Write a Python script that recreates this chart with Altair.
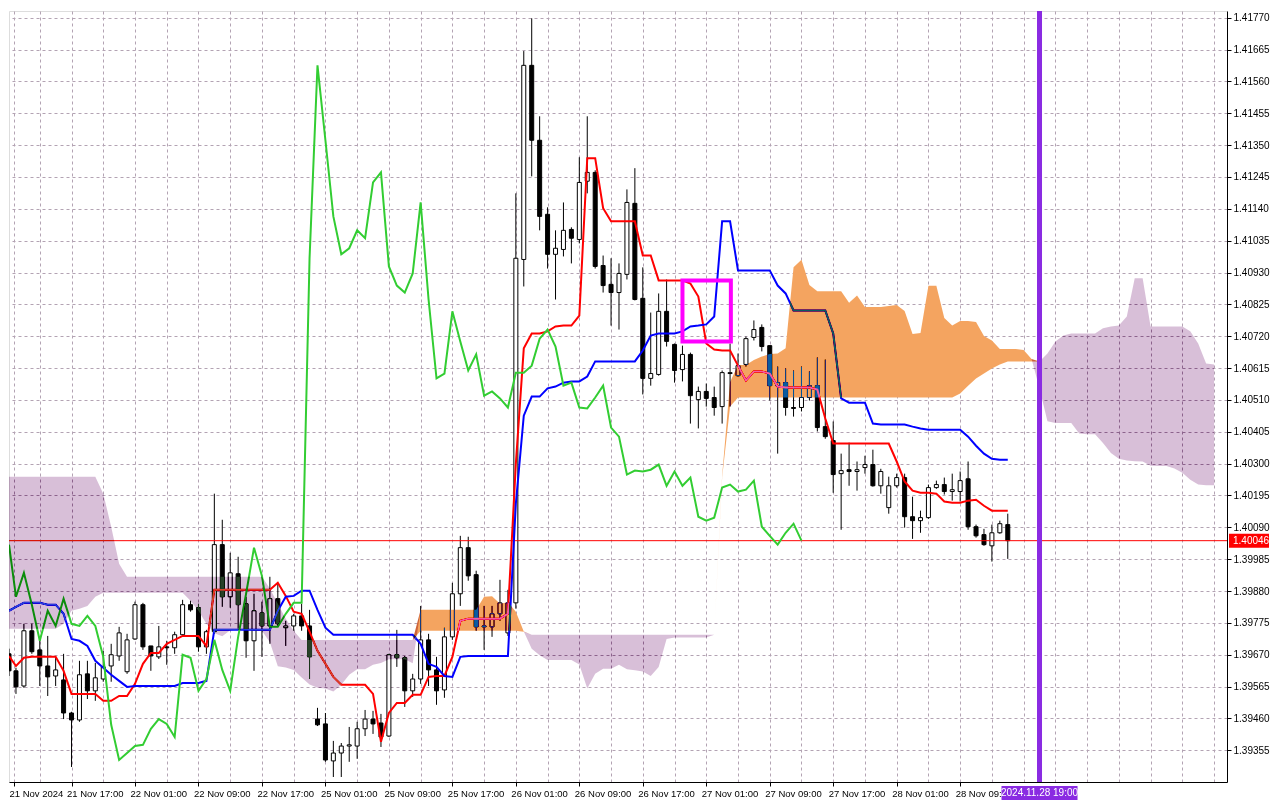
import json
import pandas as pd
import altair as alt

# H1 candles, 21 Nov 2024 09:00 .. 28 Nov 2024 15:00 (bar index 0..126)
opens = [
    1.39673, 1.39617, 1.39567, 1.39749, 1.39686, 1.39633, 1.39600, 1.39587, 1.39478, 1.39455,
    1.39607, 1.39551, 1.39590, 1.39633, 1.39666, 1.39614, 1.39722, 1.39835, 1.39699, 1.39663,
    1.39696, 1.39693, 1.39736, 1.39835, 1.39825, 1.39696, 1.39746, 1.40033, 1.39861, 1.39937,
    1.39838, 1.39716, 1.39808, 1.39765, 1.39855, 1.39759, 1.39765, 1.39798, 1.39765, 1.39458,
    1.39442, 1.39320, 1.39346, 1.39369, 1.39369, 1.39426, 1.39458, 1.39445, 1.39402, 1.39670,
    1.39660, 1.39551, 1.39590, 1.39719, 1.39620, 1.39554, 1.39729, 1.39871, 1.40023, 1.39934,
    1.39765, 1.39762, 1.39805, 1.39742, 1.39841, 1.40973, 1.41613, 1.41366, 1.41122, 1.40990,
    1.41006, 1.41072, 1.41039, 1.41231, 1.41260, 1.40953, 1.40891, 1.40864, 1.40924, 1.41158,
    1.40845, 1.40581, 1.40594, 1.40802, 1.40693, 1.40610, 1.40660, 1.40511, 1.40538, 1.40518,
    1.40488, 1.40597, 1.40590, 1.40627, 1.40716, 1.40749, 1.40689, 1.40557, 1.40567, 1.40485,
    1.40485, 1.40518, 1.40557, 1.40422, 1.40376, 1.40267, 1.40280, 1.40274, 1.40287, 1.40297,
    1.40227, 1.40155, 1.40227, 1.40254, 1.40125, 1.40112, 1.40122, 1.40221, 1.40231, 1.40208,
    1.40208, 1.40250, 1.40092, 1.40066, 1.40029, 1.40072, 1.40099,
]
highs = [
    1.39690, 1.39627, 1.39772, 1.39772, 1.39729, 1.39732, 1.39663, 1.39673, 1.39482, 1.39650,
    1.39650, 1.39643, 1.39683, 1.39706, 1.39762, 1.39739, 1.39845, 1.39841, 1.39699, 1.39765,
    1.39716, 1.39746, 1.39851, 1.39848, 1.39838, 1.39752, 1.40201, 1.40115, 1.40006, 1.39993,
    1.39861, 1.39871, 1.39845, 1.39927, 1.39904, 1.39782, 1.39805, 1.39838, 1.39818, 1.39495,
    1.39478, 1.39386, 1.39379, 1.39432, 1.39449, 1.39488, 1.39485, 1.39475, 1.39673, 1.39752,
    1.39666, 1.39607, 1.39831, 1.39739, 1.39663, 1.39759, 1.39907, 1.40062, 1.40059, 1.39947,
    1.39831, 1.39831, 1.39917, 1.39884, 1.41191, 1.41660, 1.41768, 1.41445, 1.41145, 1.41069,
    1.41161, 1.41079, 1.41310, 1.41445, 1.41267, 1.40986, 1.40977, 1.40960, 1.41204, 1.41274,
    1.40947, 1.40798, 1.40861, 1.40907, 1.40696, 1.40689, 1.40666, 1.40554, 1.40564, 1.40554,
    1.40607, 1.40696, 1.40663, 1.40719, 1.40772, 1.40759, 1.40689, 1.40620, 1.40614, 1.40607,
    1.40620, 1.40604, 1.40650, 1.40643, 1.40439, 1.40333, 1.40369, 1.40307, 1.40326, 1.40346,
    1.40283, 1.40257, 1.40267, 1.40267, 1.40191, 1.40145, 1.40231, 1.40244, 1.40254, 1.40267,
    1.40274, 1.40307, 1.40099, 1.40085, 1.40099, 1.40112, 1.40135,
]
lows = [
    1.39600, 1.39541, 1.39561, 1.39673, 1.39567, 1.39534, 1.39567, 1.39458, 1.39300, 1.39449,
    1.39524, 1.39518, 1.39581, 1.39581, 1.39650, 1.39607, 1.39719, 1.39686, 1.39617, 1.39656,
    1.39637, 1.39673, 1.39729, 1.39812, 1.39680, 1.39673, 1.39739, 1.39828, 1.39825, 1.39756,
    1.39660, 1.39617, 1.39663, 1.39706, 1.39762, 1.39699, 1.39749, 1.39749, 1.39590, 1.39435,
    1.39317, 1.39267, 1.39267, 1.39317, 1.39327, 1.39402, 1.39409, 1.39366, 1.39399, 1.39630,
    1.39498, 1.39531, 1.39574, 1.39567, 1.39505, 1.39528, 1.39719, 1.39831, 1.39914, 1.39749,
    1.39686, 1.39729, 1.39782, 1.39732, 1.39822, 1.40884, 1.41247, 1.41069, 1.40943, 1.40841,
    1.40983, 1.40960, 1.41026, 1.41191, 1.40943, 1.40864, 1.40755, 1.40742, 1.40907, 1.40838,
    1.40528, 1.40557, 1.40590, 1.40686, 1.40567, 1.40571, 1.40432, 1.40416, 1.40488, 1.40458,
    1.40432, 1.40488, 1.40587, 1.40620, 1.40706, 1.40670, 1.40508, 1.40333, 1.40458, 1.40455,
    1.40472, 1.40508, 1.40406, 1.40382, 1.40204, 1.40082, 1.40227, 1.40211, 1.40267, 1.40224,
    1.40201, 1.40135, 1.40221, 1.40089, 1.40052, 1.40072, 1.40118, 1.40217, 1.40198, 1.40178,
    1.40175, 1.40082, 1.40056, 1.40029, 1.39977, 1.40069, 1.39986,
]
closes = [
    1.39617, 1.39564, 1.39749, 1.39680, 1.39633, 1.39597, 1.39620, 1.39478, 1.39455, 1.39604,
    1.39551, 1.39594, 1.39630, 1.39670, 1.39742, 1.39719, 1.39835, 1.39696, 1.39666, 1.39696,
    1.39693, 1.39736, 1.39835, 1.39818, 1.39696, 1.39746, 1.40033, 1.39861, 1.39940, 1.39835,
    1.39716, 1.39815, 1.39765, 1.39855, 1.39772, 1.39765, 1.39798, 1.39765, 1.39663, 1.39439,
    1.39323, 1.39346, 1.39369, 1.39373, 1.39426, 1.39458, 1.39442, 1.39399, 1.39670, 1.39660,
    1.39551, 1.39590, 1.39719, 1.39620, 1.39551, 1.39729, 1.39871, 1.40023, 1.39930, 1.39762,
    1.39762, 1.39805, 1.39841, 1.39841, 1.40977, 1.41613, 1.41366, 1.41115, 1.40990, 1.41010,
    1.41069, 1.41043, 1.41227, 1.41260, 1.40950, 1.40887, 1.40864, 1.40927, 1.41161, 1.40841,
    1.40581, 1.40597, 1.40802, 1.40703, 1.40607, 1.40660, 1.40524, 1.40538, 1.40515, 1.40485,
    1.40600, 1.40600, 1.40623, 1.40712, 1.40742, 1.40686, 1.40557, 1.40567, 1.40485, 1.40482,
    1.40518, 1.40557, 1.40419, 1.40389, 1.40264, 1.40277, 1.40274, 1.40280, 1.40297, 1.40227,
    1.40274, 1.40227, 1.40254, 1.40125, 1.40112, 1.40122, 1.40221, 1.40231, 1.40208, 1.40214,
    1.40244, 1.40092, 1.40062, 1.40033, 1.40072, 1.40102, 1.40046,
]

# Ichimoku lines
tenkan = [
    1.39666, 1.39633, 1.39660, 1.39663, 1.39663, 1.39663, 1.39663, 1.39617, 1.39541, 1.39541,
    1.39541, 1.39541, 1.39518, 1.39518, 1.39534, 1.39534, 1.39574, 1.39640, 1.39676, 1.39676,
    1.39706, 1.39719, 1.39732, 1.39732, 1.39732, 1.39699, 1.39884, 1.39884, 1.39884, 1.39884,
    1.39884, 1.39884, 1.39884, 1.39884, 1.39907, 1.39864, 1.39812, 1.39805, 1.39746, 1.39683,
    1.39640, 1.39597, 1.39571, 1.39571, 1.39571, 1.39571, 1.39541, 1.39383, 1.39478, 1.39511,
    1.39511, 1.39538, 1.39538, 1.39597, 1.39600, 1.39600, 1.39663, 1.39782, 1.39789, 1.39789,
    1.39789, 1.39789, 1.39789, 1.39805, 1.40300, 1.40680, 1.40729, 1.40729, 1.40736, 1.40752,
    1.40755, 1.40755, 1.40788, 1.41307, 1.41307, 1.41142, 1.41099, 1.41099, 1.41099, 1.41099,
    1.40986, 1.40986, 1.40904, 1.40904, 1.40904, 1.40904, 1.40894, 1.40851, 1.40696, 1.40676,
    1.40673, 1.40673, 1.40623, 1.40574, 1.40604, 1.40604, 1.40597, 1.40554, 1.40551, 1.40551,
    1.40551, 1.40551, 1.40544, 1.40449, 1.40366, 1.40366, 1.40366, 1.40366, 1.40366, 1.40366,
    1.40366, 1.40366, 1.40307, 1.40241, 1.40211, 1.40204, 1.40204, 1.40201, 1.40175, 1.40171,
    1.40171, 1.40178, 1.40181, 1.40161, 1.40145, 1.40145, 1.40145,
]
kijun = [
    1.39815, 1.39828, 1.39841, 1.39841, 1.39841, 1.39835, 1.39835, 1.39805, 1.39722, 1.39716,
    1.39699, 1.39650, 1.39627, 1.39604, 1.39584, 1.39564, 1.39567, 1.39567, 1.39567, 1.39567,
    1.39567, 1.39567, 1.39577, 1.39577, 1.39577, 1.39584, 1.39752, 1.39752, 1.39752, 1.39752,
    1.39752, 1.39752, 1.39752, 1.39752, 1.39815, 1.39861, 1.39864, 1.39881, 1.39881, 1.39818,
    1.39759, 1.39736, 1.39736, 1.39736, 1.39736, 1.39736, 1.39736, 1.39736, 1.39736, 1.39736,
    1.39736, 1.39736, 1.39706, 1.39640, 1.39630, 1.39600, 1.39597, 1.39663, 1.39666, 1.39666,
    1.39666, 1.39666, 1.39666, 1.39666, 1.40168, 1.40458, 1.40521, 1.40521, 1.40548, 1.40554,
    1.40567, 1.40571, 1.40571, 1.40587, 1.40637, 1.40637, 1.40637, 1.40637, 1.40637, 1.40637,
    1.40673, 1.40722, 1.40729, 1.40729, 1.40729, 1.40736, 1.40752, 1.40755, 1.40759, 1.40785,
    1.41099, 1.41099, 1.40937, 1.40937, 1.40937, 1.40937, 1.40937, 1.40887, 1.40861, 1.40805,
    1.40805, 1.40805, 1.40805, 1.40805, 1.40729, 1.40515, 1.40501, 1.40501, 1.40501, 1.40432,
    1.40429, 1.40429, 1.40429, 1.40429, 1.40422, 1.40416, 1.40412, 1.40412, 1.40412, 1.40412,
    1.40412, 1.40389, 1.40359, 1.40333, 1.40316, 1.40313, 1.40313,
]

# Senkou spans, index 0..152 (26 bars past the last candle)
span_a = [
    1.39756, 1.39756, 1.39756, 1.39756, 1.39756, 1.39756, 1.39756, 1.39772, 1.39815, 1.39822,
    1.39831, 1.39861, 1.39874, 1.39874, 1.39874, 1.39874, 1.39874, 1.39874, 1.39874, 1.39874,
    1.39874, 1.39874, 1.39874, 1.39848, 1.39815, 1.39772, 1.39741, 1.39731, 1.39751, 1.39752,
    1.39752, 1.39749, 1.39749, 1.39711, 1.39632, 1.39628, 1.39620, 1.39595, 1.39572, 1.39561,
    1.39559, 1.39549, 1.39571, 1.39604, 1.39622, 1.39622, 1.39637, 1.39643, 1.39655, 1.39655,
    1.39655, 1.39642, 1.39818, 1.39818, 1.39818, 1.39818, 1.39818, 1.39818, 1.39818, 1.39818,
    1.39861, 1.39863, 1.39838, 1.39843, 1.39812, 1.39747, 1.39690, 1.39668, 1.39653, 1.39653,
    1.39653, 1.39653, 1.39638, 1.39559, 1.39607, 1.39624, 1.39624, 1.39637, 1.39622, 1.39619,
    1.39615, 1.39600, 1.39630, 1.39722, 1.39727, 1.39727, 1.39727, 1.39727, 1.39727, 1.39736,
    1.40260, 1.40569, 1.40625, 1.40625, 1.40642, 1.40653, 1.40661, 1.40663, 1.40680, 1.40947,
    1.40972, 1.40889, 1.40868, 1.40868, 1.40868, 1.40868, 1.40830, 1.40854, 1.40816, 1.40816,
    1.40816, 1.40820, 1.40823, 1.40803, 1.40727, 1.40731, 1.40886, 1.40886, 1.40780, 1.40755,
    1.40770, 1.40770, 1.40767, 1.40721, 1.40706, 1.40678, 1.40678, 1.40678, 1.40675, 1.40645,
    1.40548, 1.40440, 1.40434, 1.40434, 1.40434, 1.40399, 1.40397, 1.40397, 1.40368, 1.40335,
    1.40316, 1.40310, 1.40308, 1.40307, 1.40293, 1.40292, 1.40292, 1.40284, 1.40270, 1.40247,
    1.40231, 1.40229, 1.40229,
]
span_b = [
    1.40257, 1.40257, 1.40257, 1.40257, 1.40257, 1.40257, 1.40257, 1.40257, 1.40257, 1.40257,
    1.40257, 1.40257, 1.40201, 1.40092, 1.39970, 1.39927, 1.39927, 1.39927, 1.39927, 1.39927,
    1.39927, 1.39927, 1.39927, 1.39927, 1.39927, 1.39927, 1.39927, 1.39927, 1.39927, 1.39927,
    1.39927, 1.39927, 1.39927, 1.39888, 1.39838, 1.39789, 1.39749, 1.39719, 1.39719, 1.39719,
    1.39719, 1.39719, 1.39719, 1.39719, 1.39719, 1.39719, 1.39719, 1.39719, 1.39719, 1.39719,
    1.39719, 1.39719, 1.39749, 1.39749, 1.39749, 1.39749, 1.39749, 1.39749, 1.39749, 1.39749,
    1.39749, 1.39749, 1.39749, 1.39749, 1.39749, 1.39746, 1.39736, 1.39736, 1.39736, 1.39736,
    1.39736, 1.39736, 1.39736, 1.39736, 1.39736, 1.39736, 1.39736, 1.39736, 1.39736, 1.39736,
    1.39736, 1.39736, 1.39736, 1.39736, 1.39736, 1.39736, 1.39736, 1.39736, 1.39736, 1.39736,
    1.40254, 1.40488, 1.40518, 1.40518, 1.40518, 1.40518, 1.40518, 1.40518, 1.40518, 1.40518,
    1.40518, 1.40518, 1.40518, 1.40518, 1.40518, 1.40518, 1.40518, 1.40518, 1.40518, 1.40518,
    1.40518, 1.40518, 1.40518, 1.40518, 1.40518, 1.40518, 1.40518, 1.40518, 1.40518, 1.40518,
    1.40531, 1.40557, 1.40581, 1.40597, 1.40614, 1.40627, 1.40637, 1.40637, 1.40637, 1.40637,
    1.40637, 1.40663, 1.40703, 1.40722, 1.40729, 1.40729, 1.40729, 1.40729, 1.40746, 1.40752,
    1.40755, 1.40785, 1.40911, 1.40911, 1.40752, 1.40752, 1.40752, 1.40752, 1.40752, 1.40736,
    1.40696, 1.40630, 1.40627,
]

date_labels = [
    "21 Nov 2024", "21 Nov 17:00", "22 Nov 01:00", "22 Nov 09:00", "22 Nov 17:00",
    "25 Nov 01:00", "25 Nov 09:00", "25 Nov 17:00", "26 Nov 01:00", "26 Nov 09:00",
    "26 Nov 17:00", "27 Nov 01:00", "27 Nov 09:00", "27 Nov 17:00", "28 Nov 01:00",
    "28 Nov 09:00",
]
price_ticks = [
    1.39355, 1.39460, 1.39565, 1.39670, 1.39775, 1.39880, 1.39985, 1.40090,
    1.40195, 1.40300, 1.40405, 1.40510, 1.40615, 1.40720, 1.40825, 1.40930,
    1.41035, 1.41140, 1.41245, 1.41350, 1.41455, 1.41560, 1.41665, 1.41770,
]
last_price = 1.40046
marker_index = 130          # 28 Nov 19:00
marker_text = "2024.11.28 19:00"
box_index = [85.0, 91.1]
box_price = [1.40703, 1.40904]

W, H = 1218, 771
FONT = "Liberation Sans"

bars = pd.DataFrame({
    "i": range(len(opens)), "open": opens, "high": highs, "low": lows,
    "close": closes, "tenkan": tenkan, "kijun": kijun,
})
bars["fill"] = ["white" if c >= o else "black" for o, c in zip(opens, closes)]
cloud = pd.DataFrame({"k": range(len(span_a)), "a": span_a, "b": span_b})
chikou = pd.DataFrame({"k": [i - 26 for i in range(26, len(closes))], "close": closes[26:]})

# clamp keeps the first bar (index 0, just left of the view) on the left edge
xs = alt.Scale(domain=[0.75, 153], nice=False, zero=False, clamp=True)
ys = alt.Scale(domain=[1.392505, 1.417921], nice=False, zero=False)

label_expr = (
    f"datum.value < 1 ? {json.dumps(date_labels[0])} : "
    f"(datum.value % 8 == 0 && datum.value <= 120 ? {json.dumps(date_labels)}[datum.value / 8] : '')"
)
x_axis = alt.Axis(
    values=[0.75] + list(range(4, 153, 4)), labelExpr=label_expr, title=None,
    grid=True, gridDash=[3, 3], gridColor="#b3a3b3", gridWidth=1,
    domainColor="black", tickColor="black", tickSize=4,
    tickOpacity={"condition": {"test": "datum.value < 1 || datum.value % 8 == 0 && datum.value <= 120", "value": 1}, "value": 0},
    labelAlign="left", labelOffset=-5, labelPadding=2, labelFont=FONT, labelFontSize=9.5,
    labelColor="black", labelOverlap=False, labelFlush=False,
)
y_axis = alt.Axis(
    orient="right", values=price_ticks, format=".5f", title=None,
    grid=True, gridDash=[3, 3], gridColor="#b3a3b3", gridWidth=1,
    domainColor="black", tickColor="black", tickSize=4, labelPadding=2,
    labelFont=FONT, labelFontSize=10, labelColor="black", labelOverlap=False,
)


def X(field):
    return alt.X(field, type="quantitative", scale=xs, axis=x_axis)


def Y(field):
    return alt.Y(field, type="quantitative", scale=ys, axis=y_axis)


# the kumo is painted like MT4 does it: a "difference" fill over candles and lines,
# so white shows sandy brown / thistle and black, red, blue change hue inside it
cloud_base = alt.Chart(cloud).transform_calculate(top="max(datum.a, datum.b)")
kumo_mask = cloud_base.mark_area(color="white", orient="vertical").encode(
    x=X("k"), y=Y("top"), y2="b")
kumo_up = cloud_base.mark_area(color="#0B5B9F", blend="difference", orient="vertical").encode(
    x=X("k"), y=Y("top"), y2="b")
kumo_down = cloud_base.mark_area(color="#274027", blend="difference", orient="vertical").encode(
    x=X("k"), y=Y("top"), y2="a")

wicks = alt.Chart(bars).mark_rule(color="black", strokeWidth=1, clip=True).encode(
    x=X("i"), y=Y("low"), y2="high")
bodies = alt.Chart(bars).mark_bar(size=4, stroke="black", strokeWidth=1, orient="vertical", clip=True).encode(
    x=X("i"), y=Y("open"), y2="close", fill=alt.Fill("fill:N", scale=None))

price_df = pd.DataFrame({"p": [last_price], "label": [f"{last_price:.5f}"]})
price_line = alt.Chart(price_df).mark_rule(color="#FF0000", strokeWidth=1).encode(y=Y("p"))

tenkan_line = alt.Chart(bars).mark_line(color="#FF0000", strokeWidth=2, clip=True).encode(x=X("i"), y=Y("tenkan"))
kijun_line = alt.Chart(bars).mark_line(color="#0000FF", strokeWidth=2, clip=True).encode(x=X("i"), y=Y("kijun"))
chikou_line = alt.Chart(chikou).mark_line(color="#32CD32", strokeWidth=2, clip=True).encode(x=X("k"), y=Y("close"))

marker_df = pd.DataFrame({"k": [marker_index], "label": [marker_text]})
vline = alt.Chart(marker_df).mark_rule(color="#8A2BE2", strokeWidth=5).encode(x=X("k"))

box_df = pd.DataFrame({"x1": [box_index[0]], "x2": [box_index[1]], "y1": [box_price[0]], "y2": [box_price[1]]})
box = alt.Chart(box_df).mark_rect(filled=False, stroke="#FF00FF", strokeWidth=4).encode(
    x=X("x1"), x2="x2", y=Y("y1"), y2="y2")

date_tag = alt.Chart(marker_df).mark_rect(color="#8A2BE2", xOffset=-38, x2Offset=38).encode(
    x=X("k"), x2="k", y=alt.value(H + 4), y2=alt.value(H + 18))
date_txt = alt.Chart(marker_df).mark_text(color="white", font=FONT, fontSize=10, align="center", baseline="middle").encode(
    x=X("k"), y=alt.value(H + 11), text="label:N")

price_tag = alt.Chart(price_df).mark_rect(color="#FF0000", yOffset=-7, y2Offset=7).encode(
    x=alt.value(W + 2), x2=alt.value(W + 42), y=Y("p"), y2="p")
price_txt = alt.Chart(price_df).mark_text(color="white", font=FONT, fontSize=10, align="left", baseline="middle").encode(
    x=alt.value(W + 6), y=Y("p"), text="label:N")

chart = alt.layer(
    kumo_mask, wicks, bodies, price_line,
    tenkan_line, kijun_line, chikou_line,
    kumo_up, kumo_down, vline, box,
    date_tag, date_txt, price_tag, price_txt,
).properties(
    width=W, height=H, padding=0,
).configure_view(
    stroke="black", strokeWidth=1, fill="white",
).configure(background="white")

chart.save("out.html", embed_options={"renderer": "svg", "actions": False})
